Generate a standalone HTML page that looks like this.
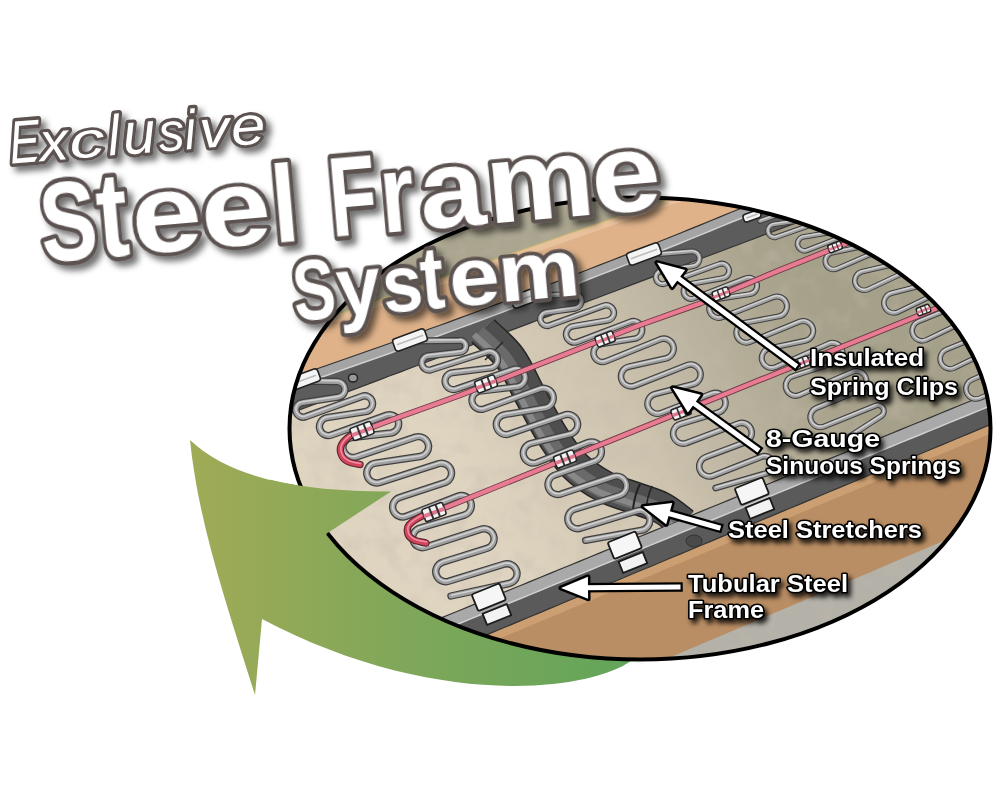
<!DOCTYPE html><html><head><meta charset="utf-8"><style>
html,body{margin:0;padding:0;background:#fff;width:1000px;height:800px;overflow:hidden}
svg{display:block}
text{font-family:"Liberation Sans",sans-serif;font-weight:bold}
</style></head><body>
<svg width="1000" height="800" viewBox="0 0 1000 800">
<defs>
<linearGradient id="gg" gradientUnits="userSpaceOnUse" x1="190" y1="0" x2="630" y2="0">
<stop offset="0" stop-color="#a0ab56"/><stop offset="0.45" stop-color="#82a759"/><stop offset="1" stop-color="#62a55a"/></linearGradient>
<linearGradient id="conc" gradientUnits="userSpaceOnUse" x1="460" y1="470" x2="820" y2="290">
<stop offset="0" stop-color="#dfd4c0"/><stop offset="0.45" stop-color="#cdc3ae"/><stop offset="0.61" stop-color="#bfb7a3"/><stop offset="0.88" stop-color="#aaa48e"/><stop offset="1" stop-color="#a5a089"/></linearGradient>
<linearGradient id="tube" gradientUnits="userSpaceOnUse" x1="0" y1="0" x2="1" y2="0">
<stop offset="0" stop-color="#999"/><stop offset="1" stop-color="#444"/></linearGradient>
<filter id="noise" x="0" y="0" width="100%" height="100%" filterUnits="userSpaceOnUse">
<feTurbulence type="fractalNoise" baseFrequency="0.045" numOctaves="3" seed="7" result="t"/>
<feColorMatrix in="t" type="matrix" values="0 0 0 0 0.55  0 0 0 0 0.5  0 0 0 0 0.42  1.6 0 0 0 -0.72"/>
</filter>
<clipPath id="ell"><ellipse cx="640" cy="428.5" rx="350.5" ry="231"/></clipPath>
<filter id="sh" x="-10%" y="-10%" width="130%" height="140%">
<feGaussianBlur in="SourceAlpha" stdDeviation="3.2"/><feOffset dx="5" dy="5" result="b"/>
<feFlood flood-color="#000" flood-opacity="0.55"/><feComposite in2="b" operator="in"/>
<feMerge><feMergeNode/><feMergeNode in="SourceGraphic"/></feMerge></filter>
<filter id="sh2" x="-10%" y="-20%" width="130%" height="160%">
<feGaussianBlur in="SourceAlpha" stdDeviation="2.6"/><feOffset dx="3" dy="4" result="b"/>
<feFlood flood-color="#000" flood-opacity="0.85"/><feComposite in2="b" operator="in"/>
<feMerge><feMergeNode/><feMergeNode in="SourceGraphic"/></feMerge></filter>
</defs>

<path d="M190,440 C230,478 300,492 391,491.5 L326,534 L420,590 L520,635 L600,655 L645,664 L631,661 C585,693 430,708 262,619 L255,695 C225,600 198,520 190,440 Z" fill="url(#gg)"/>
<g clip-path="url(#ell)">
<rect x="280" y="190" width="720" height="480" fill="#aaa58f"/>
<polygon points="270.0,421.1 280.0,417.3 290.0,413.5 300.0,409.8 310.0,406.0 320.0,402.2 330.0,398.5 340.0,394.7 350.0,390.9 360.0,387.2 370.0,383.4 380.0,379.6 390.0,375.8 400.0,372.1 410.0,368.3 420.0,364.5 430.0,360.8 440.0,357.0 450.0,353.2 460.0,349.5 470.0,345.7 480.0,341.9 490.0,338.2 500.0,334.4 510.0,330.6 520.0,326.9 530.0,323.1 540.0,319.3 550.0,315.6 560.0,311.8 570.0,308.0 580.0,304.3 590.0,300.5 600.0,296.7 610.0,293.0 620.0,289.2 630.0,285.4 640.0,281.6 650.0,277.9 660.0,274.1 670.0,270.3 680.0,266.6 690.0,262.8 700.0,259.0 710.0,255.3 720.0,251.5 730.0,247.7 740.0,244.0 750.0,240.2 760.0,236.4 770.0,232.7 780.0,228.9 790.0,225.1 800.0,221.4 810.0,217.6 820.0,213.8 830.0,210.1 840.0,206.3 850.0,202.5 860.0,198.8 870.0,195.0 880.0,191.2 890.0,187.4 900.0,183.7 910.0,179.9 920.0,176.1 930.0,172.4 940.0,168.6 950.0,164.8 960.0,161.1 970.0,157.3 980.0,153.5 990.0,149.8 1000.0,146.0 1010.0,142.2 1010.0,384.8 1000.0,388.9 990.0,393.0 980.0,397.1 970.0,401.2 960.0,405.3 950.0,409.4 940.0,413.5 930.0,417.6 920.0,421.7 910.0,425.8 900.0,429.9 890.0,434.0 880.0,438.1 870.0,442.2 860.0,446.3 850.0,450.4 840.0,454.5 830.0,458.6 820.0,462.7 810.0,466.8 800.0,470.9 790.0,475.0 780.0,479.1 770.0,483.2 760.0,487.3 750.0,491.4 740.0,495.5 730.0,499.6 720.0,503.7 710.0,507.8 700.0,511.9 690.0,516.0 680.0,520.1 670.0,524.2 660.0,528.3 650.0,532.4 640.0,536.5 630.0,540.6 620.0,544.7 610.0,548.8 600.0,552.9 590.0,557.0 580.0,561.1 570.0,565.2 560.0,569.3 550.0,573.4 540.0,577.5 530.0,581.6 520.0,585.7 510.0,589.8 500.0,593.8 490.0,597.9 480.0,602.0 470.0,606.1 460.0,610.2 450.0,614.3 440.0,618.4 430.0,622.5 420.0,626.6 410.0,630.7 400.0,634.8 390.0,638.9 380.0,643.0 370.0,647.1 360.0,651.2 350.0,655.3 340.0,659.4 330.0,663.5 320.0,667.6 310.0,671.7 300.0,675.8 290.0,679.9 280.0,684.0 270.0,688.1" fill="url(#conc)"/>
<clipPath id="concclip"><polygon points="270.0,421.1 280.0,417.3 290.0,413.5 300.0,409.8 310.0,406.0 320.0,402.2 330.0,398.5 340.0,394.7 350.0,390.9 360.0,387.2 370.0,383.4 380.0,379.6 390.0,375.8 400.0,372.1 410.0,368.3 420.0,364.5 430.0,360.8 440.0,357.0 450.0,353.2 460.0,349.5 470.0,345.7 480.0,341.9 490.0,338.2 500.0,334.4 510.0,330.6 520.0,326.9 530.0,323.1 540.0,319.3 550.0,315.6 560.0,311.8 570.0,308.0 580.0,304.3 590.0,300.5 600.0,296.7 610.0,293.0 620.0,289.2 630.0,285.4 640.0,281.6 650.0,277.9 660.0,274.1 670.0,270.3 680.0,266.6 690.0,262.8 700.0,259.0 710.0,255.3 720.0,251.5 730.0,247.7 740.0,244.0 750.0,240.2 760.0,236.4 770.0,232.7 780.0,228.9 790.0,225.1 800.0,221.4 810.0,217.6 820.0,213.8 830.0,210.1 840.0,206.3 850.0,202.5 860.0,198.8 870.0,195.0 880.0,191.2 890.0,187.4 900.0,183.7 910.0,179.9 920.0,176.1 930.0,172.4 940.0,168.6 950.0,164.8 960.0,161.1 970.0,157.3 980.0,153.5 990.0,149.8 1000.0,146.0 1010.0,142.2 1010.0,384.8 1000.0,388.9 990.0,393.0 980.0,397.1 970.0,401.2 960.0,405.3 950.0,409.4 940.0,413.5 930.0,417.6 920.0,421.7 910.0,425.8 900.0,429.9 890.0,434.0 880.0,438.1 870.0,442.2 860.0,446.3 850.0,450.4 840.0,454.5 830.0,458.6 820.0,462.7 810.0,466.8 800.0,470.9 790.0,475.0 780.0,479.1 770.0,483.2 760.0,487.3 750.0,491.4 740.0,495.5 730.0,499.6 720.0,503.7 710.0,507.8 700.0,511.9 690.0,516.0 680.0,520.1 670.0,524.2 660.0,528.3 650.0,532.4 640.0,536.5 630.0,540.6 620.0,544.7 610.0,548.8 600.0,552.9 590.0,557.0 580.0,561.1 570.0,565.2 560.0,569.3 550.0,573.4 540.0,577.5 530.0,581.6 520.0,585.7 510.0,589.8 500.0,593.8 490.0,597.9 480.0,602.0 470.0,606.1 460.0,610.2 450.0,614.3 440.0,618.4 430.0,622.5 420.0,626.6 410.0,630.7 400.0,634.8 390.0,638.9 380.0,643.0 370.0,647.1 360.0,651.2 350.0,655.3 340.0,659.4 330.0,663.5 320.0,667.6 310.0,671.7 300.0,675.8 290.0,679.9 280.0,684.0 270.0,688.1"/></clipPath>
<rect x="280" y="190" width="720" height="480" filter="url(#noise)" clip-path="url(#concclip)" opacity="0.55"/>
<clipPath id="upclip"><polygon points="270.0,150.0 280.0,150.0 290.0,150.0 300.0,150.0 310.0,150.0 320.0,150.0 330.0,150.0 340.0,150.0 350.0,150.0 360.0,150.0 370.0,150.0 380.0,150.0 390.0,150.0 400.0,150.0 410.0,150.0 420.0,150.0 430.0,150.0 440.0,150.0 450.0,150.0 460.0,150.0 470.0,150.0 480.0,150.0 490.0,150.0 500.0,150.0 510.0,150.0 520.0,150.0 530.0,150.0 540.0,150.0 550.0,150.0 560.0,150.0 570.0,150.0 580.0,150.0 590.0,150.0 600.0,150.0 610.0,150.0 620.0,150.0 630.0,150.0 640.0,150.0 650.0,150.0 660.0,150.0 670.0,150.0 680.0,150.0 690.0,150.0 700.0,150.0 710.0,150.0 720.0,150.0 730.0,150.0 740.0,150.0 750.0,150.0 760.0,150.0 770.0,150.0 780.0,150.0 790.0,150.0 800.0,150.0 810.0,150.0 820.0,150.0 830.0,150.0 840.0,150.0 850.0,150.0 860.0,150.0 870.0,150.0 880.0,150.0 890.0,150.0 900.0,150.0 910.0,150.0 920.0,150.0 930.0,150.0 940.0,150.0 950.0,150.0 960.0,150.0 970.0,150.0 980.0,150.0 990.0,150.0 1000.0,150.0 1010.0,150.0 1010.0,79.2 1000.0,82.7 990.0,86.2 980.0,89.7 970.0,93.2 960.0,96.7 950.0,100.2 940.0,103.7 930.0,107.2 920.0,110.7 910.0,114.2 900.0,117.7 890.0,121.2 880.0,124.7 870.0,128.2 860.0,131.7 850.0,135.2 840.0,138.7 830.0,142.2 820.0,145.7 810.0,149.2 800.0,152.7 790.0,156.2 780.0,159.7 770.0,163.2 760.0,166.7 750.0,170.2 740.0,173.7 730.0,177.2 720.0,180.7 710.0,184.2 700.0,187.7 690.0,191.2 680.0,194.7 670.0,198.2 660.0,201.7 650.0,205.2 640.0,208.7 630.0,212.2 620.0,215.7 610.0,219.2 600.0,222.7 590.0,226.2 580.0,229.7 570.0,233.2 560.0,236.7 550.0,240.2 540.0,243.7 530.0,247.2 520.0,250.7 510.0,254.2 500.0,257.6 490.0,261.1 480.0,264.6 470.0,268.1 460.0,271.6 450.0,275.1 440.0,278.6 430.0,282.1 420.0,285.6 410.0,289.1 400.0,292.6 390.0,296.1 380.0,299.6 370.0,303.1 360.0,306.6 350.0,310.1 340.0,313.6 330.0,317.1 320.0,320.6 310.0,324.1 300.0,327.6 290.0,331.1 280.0,334.6 270.0,338.1"/></clipPath>
<rect x="280" y="150" width="720" height="480" filter="url(#noise)" clip-path="url(#upclip)" opacity="0.5"/>
<polygon points="270.0,338.1 280.0,334.6 290.0,331.1 300.0,327.6 310.0,324.1 320.0,320.6 330.0,317.1 340.0,313.6 350.0,310.1 360.0,306.6 370.0,303.1 380.0,299.6 390.0,296.1 400.0,292.6 410.0,289.1 420.0,285.6 430.0,282.1 440.0,278.6 450.0,275.1 460.0,271.6 470.0,268.1 480.0,264.6 490.0,261.1 500.0,257.6 510.0,254.2 520.0,250.7 530.0,247.2 540.0,243.7 550.0,240.2 560.0,236.7 570.0,233.2 580.0,229.7 590.0,226.2 600.0,222.7 610.0,219.2 620.0,215.7 630.0,212.2 640.0,208.7 650.0,205.2 660.0,201.7 670.0,198.2 680.0,194.7 690.0,191.2 700.0,187.7 710.0,184.2 720.0,180.7 730.0,177.2 740.0,173.7 750.0,170.2 760.0,166.7 770.0,163.2 780.0,159.7 790.0,156.2 800.0,152.7 810.0,149.2 820.0,145.7 830.0,142.2 840.0,138.7 850.0,135.2 860.0,131.7 870.0,128.2 880.0,124.7 890.0,121.2 900.0,117.7 910.0,114.2 920.0,110.7 930.0,107.2 940.0,103.7 950.0,100.2 960.0,96.7 970.0,93.2 980.0,89.7 990.0,86.2 1000.0,82.7 1010.0,79.2 1010.0,91.2 1000.0,95.8 990.0,100.4 980.0,104.9 970.0,109.4 960.0,113.9 950.0,118.4 940.0,122.8 930.0,127.3 920.0,131.7 910.0,136.1 900.0,140.5 890.0,144.9 880.0,149.3 870.0,153.6 860.0,158.0 850.0,162.3 840.0,166.6 830.0,170.9 820.0,175.1 810.0,179.4 800.0,183.6 790.0,187.8 780.0,192.0 770.0,196.2 760.0,200.4 750.0,204.5 740.0,208.7 730.0,212.8 720.0,216.9 710.0,221.0 700.0,225.1 690.0,229.1 680.0,233.2 670.0,237.2 660.0,241.2 650.0,245.2 640.0,249.2 630.0,253.1 620.0,257.1 610.0,261.0 600.0,264.9 590.0,268.8 580.0,272.7 570.0,276.5 560.0,280.4 550.0,284.2 540.0,288.0 530.0,291.8 520.0,295.6 510.0,299.3 500.0,303.1 490.0,306.8 480.0,310.5 470.0,314.2 460.0,317.9 450.0,321.6 440.0,325.2 430.0,328.8 420.0,332.5 410.0,336.1 400.0,339.6 390.0,343.2 380.0,346.8 370.0,350.3 360.0,353.8 350.0,357.3 340.0,360.8 330.0,364.3 320.0,367.7 310.0,371.2 300.0,374.6 290.0,378.0 280.0,381.4 270.0,384.7" fill="#dfb28a"/>
<polygon points="270.0,338.1 280.0,334.6 290.0,331.1 300.0,327.6 310.0,324.1 320.0,320.6 330.0,317.1 340.0,313.6 350.0,310.1 360.0,306.6 370.0,303.1 380.0,299.6 390.0,296.1 400.0,292.6 410.0,289.1 420.0,285.6 430.0,282.1 440.0,278.6 450.0,275.1 460.0,271.6 470.0,268.1 480.0,264.6 490.0,261.1 500.0,257.6 510.0,254.2 520.0,250.7 530.0,247.2 540.0,243.7 550.0,240.2 560.0,236.7 570.0,233.2 580.0,229.7 590.0,226.2 600.0,222.7 610.0,219.2 620.0,215.7 630.0,212.2 640.0,208.7 650.0,205.2 660.0,201.7 670.0,198.2 680.0,194.7 690.0,191.2 700.0,187.7 710.0,184.2 720.0,180.7 730.0,177.2 740.0,173.7 750.0,170.2 760.0,166.7 770.0,163.2 780.0,159.7 790.0,156.2 800.0,152.7 810.0,149.2 820.0,145.7 830.0,142.2 840.0,138.7 850.0,135.2 860.0,131.7 870.0,128.2 880.0,124.7 890.0,121.2 900.0,117.7 910.0,114.2 920.0,110.7 930.0,107.2 940.0,103.7 950.0,100.2 960.0,96.7 970.0,93.2 980.0,89.7 990.0,86.2 1000.0,82.7 1010.0,79.2 1010.0,86.2 1000.0,89.7 990.0,93.2 980.0,96.7 970.0,100.2 960.0,103.7 950.0,107.2 940.0,110.7 930.0,114.2 920.0,117.7 910.0,121.2 900.0,124.7 890.0,128.2 880.0,131.7 870.0,135.2 860.0,138.7 850.0,142.2 840.0,145.7 830.0,149.2 820.0,152.7 810.0,156.2 800.0,159.7 790.0,163.2 780.0,166.7 770.0,170.2 760.0,173.7 750.0,177.2 740.0,180.7 730.0,184.2 720.0,187.7 710.0,191.2 700.0,194.7 690.0,198.2 680.0,201.7 670.0,205.2 660.0,208.7 650.0,212.2 640.0,215.7 630.0,219.2 620.0,222.7 610.0,226.2 600.0,229.7 590.0,233.2 580.0,236.7 570.0,240.2 560.0,243.7 550.0,247.2 540.0,250.7 530.0,254.2 520.0,257.6 510.0,261.1 500.0,264.6 490.0,268.1 480.0,271.6 470.0,275.1 460.0,278.6 450.0,282.1 440.0,285.6 430.0,289.1 420.0,292.6 410.0,296.1 400.0,299.6 390.0,303.1 380.0,306.6 370.0,310.1 360.0,313.6 350.0,317.1 340.0,320.6 330.0,324.1 320.0,327.6 310.0,331.1 300.0,334.6 290.0,338.1 280.0,341.6 270.0,345.1" fill="#e8c29c"/>
<polyline points="270.0,338.1 280.0,334.6 290.0,331.1 300.0,327.6 310.0,324.1 320.0,320.6 330.0,317.1 340.0,313.6 350.0,310.1 360.0,306.6 370.0,303.1 380.0,299.6 390.0,296.1 400.0,292.6 410.0,289.1 420.0,285.6 430.0,282.1 440.0,278.6 450.0,275.1 460.0,271.6 470.0,268.1 480.0,264.6 490.0,261.1 500.0,257.6 510.0,254.2 520.0,250.7 530.0,247.2 540.0,243.7 550.0,240.2 560.0,236.7 570.0,233.2 580.0,229.7 590.0,226.2 600.0,222.7 610.0,219.2 620.0,215.7 630.0,212.2 640.0,208.7 650.0,205.2 660.0,201.7 670.0,198.2 680.0,194.7 690.0,191.2 700.0,187.7 710.0,184.2 720.0,180.7 730.0,177.2 740.0,173.7 750.0,170.2 760.0,166.7 770.0,163.2 780.0,159.7 790.0,156.2 800.0,152.7 810.0,149.2 820.0,145.7 830.0,142.2 840.0,138.7 850.0,135.2 860.0,131.7 870.0,128.2 880.0,124.7 890.0,121.2 900.0,117.7 910.0,114.2 920.0,110.7 930.0,107.2 940.0,103.7 950.0,100.2 960.0,96.7 970.0,93.2 980.0,89.7 990.0,86.2 1000.0,82.7 1010.0,79.2" fill="none" stroke="#c9b870" stroke-width="1.2"/>
<polygon points="270.0,384.7 280.0,381.4 290.0,378.0 300.0,374.6 310.0,371.2 320.0,367.7 330.0,364.3 340.0,360.8 350.0,357.3 360.0,353.8 370.0,350.3 380.0,346.8 390.0,343.2 400.0,339.6 410.0,336.1 420.0,332.5 430.0,328.8 440.0,325.2 450.0,321.6 460.0,317.9 470.0,314.2 480.0,310.5 490.0,306.8 500.0,303.1 510.0,299.3 520.0,295.6 530.0,291.8 540.0,288.0 550.0,284.2 560.0,280.4 570.0,276.5 580.0,272.7 590.0,268.8 600.0,264.9 610.0,261.0 620.0,257.1 630.0,253.1 640.0,249.2 650.0,245.2 660.0,241.2 670.0,237.2 680.0,233.2 690.0,229.1 700.0,225.1 710.0,221.0 720.0,216.9 730.0,212.8 740.0,208.7 750.0,204.5 760.0,200.4 770.0,196.2 780.0,192.0 790.0,187.8 800.0,183.6 810.0,179.4 820.0,175.1 830.0,170.9 840.0,166.6 850.0,162.3 860.0,158.0 870.0,153.6 880.0,149.3 890.0,144.9 900.0,140.5 910.0,136.1 920.0,131.7 930.0,127.3 940.0,122.8 950.0,118.4 960.0,113.9 970.0,109.4 980.0,104.9 990.0,100.4 1000.0,95.8 1010.0,91.2 1010.0,101.2 1000.0,105.8 990.0,110.4 980.0,114.9 970.0,119.4 960.0,123.9 950.0,128.4 940.0,132.8 930.0,137.3 920.0,141.7 910.0,146.1 900.0,150.5 890.0,154.9 880.0,159.3 870.0,163.6 860.0,168.0 850.0,172.3 840.0,176.6 830.0,180.9 820.0,185.1 810.0,189.4 800.0,193.6 790.0,197.8 780.0,202.0 770.0,206.2 760.0,210.4 750.0,214.5 740.0,218.7 730.0,222.8 720.0,226.9 710.0,231.0 700.0,235.1 690.0,239.1 680.0,243.2 670.0,247.2 660.0,251.2 650.0,255.2 640.0,259.2 630.0,263.1 620.0,267.1 610.0,271.0 600.0,274.9 590.0,278.8 580.0,282.7 570.0,286.5 560.0,290.4 550.0,294.2 540.0,298.0 530.0,301.8 520.0,305.6 510.0,309.3 500.0,313.1 490.0,316.8 480.0,320.5 470.0,324.2 460.0,327.9 450.0,331.6 440.0,335.2 430.0,338.8 420.0,342.5 410.0,346.1 400.0,349.6 390.0,353.2 380.0,356.8 370.0,360.3 360.0,363.8 350.0,367.3 340.0,370.8 330.0,374.3 320.0,377.7 310.0,381.2 300.0,384.6 290.0,388.0 280.0,391.4 270.0,394.7" fill="#a4a4a4"/>
<polygon points="270.0,394.7 280.0,391.4 290.0,388.0 300.0,384.6 310.0,381.2 320.0,377.7 330.0,374.3 340.0,370.8 350.0,367.3 360.0,363.8 370.0,360.3 380.0,356.8 390.0,353.2 400.0,349.6 410.0,346.1 420.0,342.5 430.0,338.8 440.0,335.2 450.0,331.6 460.0,327.9 470.0,324.2 480.0,320.5 490.0,316.8 500.0,313.1 510.0,309.3 520.0,305.6 530.0,301.8 540.0,298.0 550.0,294.2 560.0,290.4 570.0,286.5 580.0,282.7 590.0,278.8 600.0,274.9 610.0,271.0 620.0,267.1 630.0,263.1 640.0,259.2 650.0,255.2 660.0,251.2 670.0,247.2 680.0,243.2 690.0,239.1 700.0,235.1 710.0,231.0 720.0,226.9 730.0,222.8 740.0,218.7 750.0,214.5 760.0,210.4 770.0,206.2 780.0,202.0 790.0,197.8 800.0,193.6 810.0,189.4 820.0,185.1 830.0,180.9 840.0,176.6 850.0,172.3 860.0,168.0 870.0,163.6 880.0,159.3 890.0,154.9 900.0,150.5 910.0,146.1 920.0,141.7 930.0,137.3 940.0,132.8 950.0,128.4 960.0,123.9 970.0,119.4 980.0,114.9 990.0,110.4 1000.0,105.8 1010.0,101.2 1010.0,142.2 1000.0,146.0 990.0,149.8 980.0,153.5 970.0,157.3 960.0,161.1 950.0,164.8 940.0,168.6 930.0,172.4 920.0,176.1 910.0,179.9 900.0,183.7 890.0,187.4 880.0,191.2 870.0,195.0 860.0,198.8 850.0,202.5 840.0,206.3 830.0,210.1 820.0,213.8 810.0,217.6 800.0,221.4 790.0,225.1 780.0,228.9 770.0,232.7 760.0,236.4 750.0,240.2 740.0,244.0 730.0,247.7 720.0,251.5 710.0,255.3 700.0,259.0 690.0,262.8 680.0,266.6 670.0,270.3 660.0,274.1 650.0,277.9 640.0,281.6 630.0,285.4 620.0,289.2 610.0,293.0 600.0,296.7 590.0,300.5 580.0,304.3 570.0,308.0 560.0,311.8 550.0,315.6 540.0,319.3 530.0,323.1 520.0,326.9 510.0,330.6 500.0,334.4 490.0,338.2 480.0,341.9 470.0,345.7 460.0,349.5 450.0,353.2 440.0,357.0 430.0,360.8 420.0,364.5 410.0,368.3 400.0,372.1 390.0,375.8 380.0,379.6 370.0,383.4 360.0,387.2 350.0,390.9 340.0,394.7 330.0,398.5 320.0,402.2 310.0,406.0 300.0,409.8 290.0,413.5 280.0,417.3 270.0,421.1" fill="#5c5c5c"/>
<polyline points="270.0,394.7 280.0,391.4 290.0,388.0 300.0,384.6 310.0,381.2 320.0,377.7 330.0,374.3 340.0,370.8 350.0,367.3 360.0,363.8 370.0,360.3 380.0,356.8 390.0,353.2 400.0,349.6 410.0,346.1 420.0,342.5 430.0,338.8 440.0,335.2 450.0,331.6 460.0,327.9 470.0,324.2 480.0,320.5 490.0,316.8 500.0,313.1 510.0,309.3 520.0,305.6 530.0,301.8 540.0,298.0 550.0,294.2 560.0,290.4 570.0,286.5 580.0,282.7 590.0,278.8 600.0,274.9 610.0,271.0 620.0,267.1 630.0,263.1 640.0,259.2 650.0,255.2 660.0,251.2 670.0,247.2 680.0,243.2 690.0,239.1 700.0,235.1 710.0,231.0 720.0,226.9 730.0,222.8 740.0,218.7 750.0,214.5 760.0,210.4 770.0,206.2 780.0,202.0 790.0,197.8 800.0,193.6 810.0,189.4 820.0,185.1 830.0,180.9 840.0,176.6 850.0,172.3 860.0,168.0 870.0,163.6 880.0,159.3 890.0,154.9 900.0,150.5 910.0,146.1 920.0,141.7 930.0,137.3 940.0,132.8 950.0,128.4 960.0,123.9 970.0,119.4 980.0,114.9 990.0,110.4 1000.0,105.8 1010.0,101.2" fill="none" stroke="#d0d0d0" stroke-width="1.5"/>
<polygon points="270.0,688.1 280.0,684.0 290.0,679.9 300.0,675.8 310.0,671.7 320.0,667.6 330.0,663.5 340.0,659.4 350.0,655.3 360.0,651.2 370.0,647.1 380.0,643.0 390.0,638.9 400.0,634.8 410.0,630.7 420.0,626.6 430.0,622.5 440.0,618.4 450.0,614.3 460.0,610.2 470.0,606.1 480.0,602.0 490.0,597.9 500.0,593.8 510.0,589.8 520.0,585.7 530.0,581.6 540.0,577.5 550.0,573.4 560.0,569.3 570.0,565.2 580.0,561.1 590.0,557.0 600.0,552.9 610.0,548.8 620.0,544.7 630.0,540.6 640.0,536.5 650.0,532.4 660.0,528.3 670.0,524.2 680.0,520.1 690.0,516.0 700.0,511.9 710.0,507.8 720.0,503.7 730.0,499.6 740.0,495.5 750.0,491.4 760.0,487.3 770.0,483.2 780.0,479.1 790.0,475.0 800.0,470.9 810.0,466.8 820.0,462.7 830.0,458.6 840.0,454.5 850.0,450.4 860.0,446.3 870.0,442.2 880.0,438.1 890.0,434.0 900.0,429.9 910.0,425.8 920.0,421.7 930.0,417.6 940.0,413.5 950.0,409.4 960.0,405.3 970.0,401.2 980.0,397.1 990.0,393.0 1000.0,388.9 1010.0,384.8 1010.0,397.8 1000.0,401.9 990.0,406.0 980.0,410.1 970.0,414.2 960.0,418.3 950.0,422.4 940.0,426.5 930.0,430.6 920.0,434.7 910.0,438.8 900.0,442.9 890.0,447.0 880.0,451.1 870.0,455.2 860.0,459.3 850.0,463.4 840.0,467.5 830.0,471.6 820.0,475.7 810.0,479.8 800.0,483.9 790.0,488.0 780.0,492.1 770.0,496.2 760.0,500.3 750.0,504.4 740.0,508.5 730.0,512.6 720.0,516.7 710.0,520.8 700.0,524.9 690.0,529.0 680.0,533.1 670.0,537.2 660.0,541.3 650.0,545.4 640.0,549.5 630.0,553.6 620.0,557.7 610.0,561.8 600.0,565.9 590.0,570.0 580.0,574.1 570.0,578.2 560.0,582.3 550.0,586.4 540.0,590.5 530.0,594.6 520.0,598.7 510.0,602.8 500.0,606.8 490.0,610.9 480.0,615.0 470.0,619.1 460.0,623.2 450.0,627.3 440.0,631.4 430.0,635.5 420.0,639.6 410.0,643.7 400.0,647.8 390.0,651.9 380.0,656.0 370.0,660.1 360.0,664.2 350.0,668.3 340.0,672.4 330.0,676.5 320.0,680.6 310.0,684.7 300.0,688.8 290.0,692.9 280.0,697.0 270.0,701.1" fill="#a9a9a9"/>
<polygon points="270.0,701.1 280.0,697.0 290.0,692.9 300.0,688.8 310.0,684.7 320.0,680.6 330.0,676.5 340.0,672.4 350.0,668.3 360.0,664.2 370.0,660.1 380.0,656.0 390.0,651.9 400.0,647.8 410.0,643.7 420.0,639.6 430.0,635.5 440.0,631.4 450.0,627.3 460.0,623.2 470.0,619.1 480.0,615.0 490.0,610.9 500.0,606.8 510.0,602.8 520.0,598.7 530.0,594.6 540.0,590.5 550.0,586.4 560.0,582.3 570.0,578.2 580.0,574.1 590.0,570.0 600.0,565.9 610.0,561.8 620.0,557.7 630.0,553.6 640.0,549.5 650.0,545.4 660.0,541.3 670.0,537.2 680.0,533.1 690.0,529.0 700.0,524.9 710.0,520.8 720.0,516.7 730.0,512.6 740.0,508.5 750.0,504.4 760.0,500.3 770.0,496.2 780.0,492.1 790.0,488.0 800.0,483.9 810.0,479.8 820.0,475.7 830.0,471.6 840.0,467.5 850.0,463.4 860.0,459.3 870.0,455.2 880.0,451.1 890.0,447.0 900.0,442.9 910.0,438.8 920.0,434.7 930.0,430.6 940.0,426.5 950.0,422.4 960.0,418.3 970.0,414.2 980.0,410.1 990.0,406.0 1000.0,401.9 1010.0,397.8 1010.0,416.4 1000.0,420.6 990.0,424.8 980.0,428.9 970.0,433.1 960.0,437.3 950.0,441.5 940.0,445.6 930.0,449.8 920.0,454.0 910.0,458.2 900.0,462.3 890.0,466.5 880.0,470.7 870.0,474.8 860.0,479.0 850.0,483.2 840.0,487.4 830.0,491.5 820.0,495.7 810.0,499.9 800.0,504.1 790.0,508.2 780.0,512.4 770.0,516.6 760.0,520.8 750.0,524.9 740.0,529.1 730.0,533.3 720.0,537.4 710.0,541.6 700.0,545.8 690.0,550.0 680.0,554.1 670.0,558.3 660.0,562.5 650.0,566.7 640.0,570.8 630.0,575.0 620.0,579.2 610.0,583.3 600.0,587.5 590.0,591.7 580.0,595.9 570.0,600.0 560.0,604.2 550.0,608.4 540.0,612.6 530.0,616.7 520.0,620.9 510.0,625.1 500.0,629.2 490.0,633.4 480.0,637.6 470.0,641.8 460.0,645.9 450.0,650.1 440.0,654.3 430.0,658.5 420.0,662.6 410.0,666.8 400.0,671.0 390.0,675.2 380.0,679.3 370.0,683.5 360.0,687.7 350.0,691.8 340.0,696.0 330.0,700.2 320.0,704.4 310.0,708.5 300.0,712.7 290.0,716.9 280.0,721.1 270.0,725.2" fill="#5a5a5a"/>
<polyline points="270.0,701.1 280.0,697.0 290.0,692.9 300.0,688.8 310.0,684.7 320.0,680.6 330.0,676.5 340.0,672.4 350.0,668.3 360.0,664.2 370.0,660.1 380.0,656.0 390.0,651.9 400.0,647.8 410.0,643.7 420.0,639.6 430.0,635.5 440.0,631.4 450.0,627.3 460.0,623.2 470.0,619.1 480.0,615.0 490.0,610.9 500.0,606.8 510.0,602.8 520.0,598.7 530.0,594.6 540.0,590.5 550.0,586.4 560.0,582.3 570.0,578.2 580.0,574.1 590.0,570.0 600.0,565.9 610.0,561.8 620.0,557.7 630.0,553.6 640.0,549.5 650.0,545.4 660.0,541.3 670.0,537.2 680.0,533.1 690.0,529.0 700.0,524.9 710.0,520.8 720.0,516.7 730.0,512.6 740.0,508.5 750.0,504.4 760.0,500.3 770.0,496.2 780.0,492.1 790.0,488.0 800.0,483.9 810.0,479.8 820.0,475.7 830.0,471.6 840.0,467.5 850.0,463.4 860.0,459.3 870.0,455.2 880.0,451.1 890.0,447.0 900.0,442.9 910.0,438.8 920.0,434.7 930.0,430.6 940.0,426.5 950.0,422.4 960.0,418.3 970.0,414.2 980.0,410.1 990.0,406.0 1000.0,401.9 1010.0,397.8" fill="none" stroke="#d0d0d0" stroke-width="1.5"/>
<polygon points="270.0,725.2 280.0,721.1 290.0,716.9 300.0,712.7 310.0,708.5 320.0,704.4 330.0,700.2 340.0,696.0 350.0,691.8 360.0,687.7 370.0,683.5 380.0,679.3 390.0,675.2 400.0,671.0 410.0,666.8 420.0,662.6 430.0,658.5 440.0,654.3 450.0,650.1 460.0,645.9 470.0,641.8 480.0,637.6 490.0,633.4 500.0,629.2 510.0,625.1 520.0,620.9 530.0,616.7 540.0,612.6 550.0,608.4 560.0,604.2 570.0,600.0 580.0,595.9 590.0,591.7 600.0,587.5 610.0,583.3 620.0,579.2 630.0,575.0 640.0,570.8 650.0,566.7 660.0,562.5 670.0,558.3 680.0,554.1 690.0,550.0 700.0,545.8 710.0,541.6 720.0,537.4 730.0,533.3 740.0,529.1 750.0,524.9 760.0,520.8 770.0,516.6 780.0,512.4 790.0,508.2 800.0,504.1 810.0,499.9 820.0,495.7 830.0,491.5 840.0,487.4 850.0,483.2 860.0,479.0 870.0,474.8 880.0,470.7 890.0,466.5 900.0,462.3 910.0,458.2 920.0,454.0 930.0,449.8 940.0,445.6 950.0,441.5 960.0,437.3 970.0,433.1 980.0,428.9 990.0,424.8 1000.0,420.6 1010.0,416.4 1010.0,512.7 1000.0,517.0 990.0,521.2 980.0,525.5 970.0,529.8 960.0,534.0 950.0,538.3 940.0,542.5 930.0,546.8 920.0,551.1 910.0,555.3 900.0,559.6 890.0,563.8 880.0,568.1 870.0,572.4 860.0,576.6 850.0,580.9 840.0,585.1 830.0,589.4 820.0,593.7 810.0,597.9 800.0,602.2 790.0,606.4 780.0,610.7 770.0,615.0 760.0,619.2 750.0,623.5 740.0,627.7 730.0,632.0 720.0,636.3 710.0,640.5 700.0,644.8 690.0,649.0 680.0,653.3 670.0,657.6 660.0,661.8 650.0,666.1 640.0,670.3 630.0,674.6 620.0,678.9 610.0,683.1 600.0,687.4 590.0,691.6 580.0,695.9 570.0,700.2 560.0,704.4 550.0,708.7 540.0,712.9 530.0,717.2 520.0,721.5 510.0,725.7 500.0,730.0 490.0,734.2 480.0,738.5 470.0,742.8 460.0,747.0 450.0,751.3 440.0,755.5 430.0,759.8 420.0,764.1 410.0,768.3 400.0,772.6 390.0,776.8 380.0,781.1 370.0,785.4 360.0,789.6 350.0,793.9 340.0,798.1 330.0,802.4 320.0,806.7 310.0,810.9 300.0,815.2 290.0,819.4 280.0,823.7 270.0,828.0" fill="#ba8e64"/>
<polygon points="270.0,725.2 280.0,721.1 290.0,716.9 300.0,712.7 310.0,708.5 320.0,704.4 330.0,700.2 340.0,696.0 350.0,691.8 360.0,687.7 370.0,683.5 380.0,679.3 390.0,675.2 400.0,671.0 410.0,666.8 420.0,662.6 430.0,658.5 440.0,654.3 450.0,650.1 460.0,645.9 470.0,641.8 480.0,637.6 490.0,633.4 500.0,629.2 510.0,625.1 520.0,620.9 530.0,616.7 540.0,612.6 550.0,608.4 560.0,604.2 570.0,600.0 580.0,595.9 590.0,591.7 600.0,587.5 610.0,583.3 620.0,579.2 630.0,575.0 640.0,570.8 650.0,566.7 660.0,562.5 670.0,558.3 680.0,554.1 690.0,550.0 700.0,545.8 710.0,541.6 720.0,537.4 730.0,533.3 740.0,529.1 750.0,524.9 760.0,520.8 770.0,516.6 780.0,512.4 790.0,508.2 800.0,504.1 810.0,499.9 820.0,495.7 830.0,491.5 840.0,487.4 850.0,483.2 860.0,479.0 870.0,474.8 880.0,470.7 890.0,466.5 900.0,462.3 910.0,458.2 920.0,454.0 930.0,449.8 940.0,445.6 950.0,441.5 960.0,437.3 970.0,433.1 980.0,428.9 990.0,424.8 1000.0,420.6 1010.0,416.4 1010.0,425.4 1000.0,429.6 990.0,433.8 980.0,437.9 970.0,442.1 960.0,446.3 950.0,450.5 940.0,454.6 930.0,458.8 920.0,463.0 910.0,467.2 900.0,471.3 890.0,475.5 880.0,479.7 870.0,483.8 860.0,488.0 850.0,492.2 840.0,496.4 830.0,500.5 820.0,504.7 810.0,508.9 800.0,513.1 790.0,517.2 780.0,521.4 770.0,525.6 760.0,529.8 750.0,533.9 740.0,538.1 730.0,542.3 720.0,546.4 710.0,550.6 700.0,554.8 690.0,559.0 680.0,563.1 670.0,567.3 660.0,571.5 650.0,575.7 640.0,579.8 630.0,584.0 620.0,588.2 610.0,592.3 600.0,596.5 590.0,600.7 580.0,604.9 570.0,609.0 560.0,613.2 550.0,617.4 540.0,621.6 530.0,625.7 520.0,629.9 510.0,634.1 500.0,638.2 490.0,642.4 480.0,646.6 470.0,650.8 460.0,654.9 450.0,659.1 440.0,663.3 430.0,667.5 420.0,671.6 410.0,675.8 400.0,680.0 390.0,684.2 380.0,688.3 370.0,692.5 360.0,696.7 350.0,700.8 340.0,705.0 330.0,709.2 320.0,713.4 310.0,717.5 300.0,721.7 290.0,725.9 280.0,730.1 270.0,734.2" fill="#cc9f72"/>
<polygon points="270.0,828.0 280.0,823.7 290.0,819.4 300.0,815.2 310.0,810.9 320.0,806.7 330.0,802.4 340.0,798.1 350.0,793.9 360.0,789.6 370.0,785.4 380.0,781.1 390.0,776.8 400.0,772.6 410.0,768.3 420.0,764.1 430.0,759.8 440.0,755.5 450.0,751.3 460.0,747.0 470.0,742.8 480.0,738.5 490.0,734.2 500.0,730.0 510.0,725.7 520.0,721.5 530.0,717.2 540.0,712.9 550.0,708.7 560.0,704.4 570.0,700.2 580.0,695.9 590.0,691.6 600.0,687.4 610.0,683.1 620.0,678.9 630.0,674.6 640.0,670.3 650.0,666.1 660.0,661.8 670.0,657.6 680.0,653.3 690.0,649.0 700.0,644.8 710.0,640.5 720.0,636.3 730.0,632.0 740.0,627.7 750.0,623.5 760.0,619.2 770.0,615.0 780.0,610.7 790.0,606.4 800.0,602.2 810.0,597.9 820.0,593.7 830.0,589.4 840.0,585.1 850.0,580.9 860.0,576.6 870.0,572.4 880.0,568.1 890.0,563.8 900.0,559.6 910.0,555.3 920.0,551.1 930.0,546.8 940.0,542.5 950.0,538.3 960.0,534.0 970.0,529.8 980.0,525.5 990.0,521.2 1000.0,517.0 1010.0,512.7 1010.0,720.0 1000.0,720.0 990.0,720.0 980.0,720.0 970.0,720.0 960.0,720.0 950.0,720.0 940.0,720.0 930.0,720.0 920.0,720.0 910.0,720.0 900.0,720.0 890.0,720.0 880.0,720.0 870.0,720.0 860.0,720.0 850.0,720.0 840.0,720.0 830.0,720.0 820.0,720.0 810.0,720.0 800.0,720.0 790.0,720.0 780.0,720.0 770.0,720.0 760.0,720.0 750.0,720.0 740.0,720.0 730.0,720.0 720.0,720.0 710.0,720.0 700.0,720.0 690.0,720.0 680.0,720.0 670.0,720.0 660.0,720.0 650.0,720.0 640.0,720.0 630.0,720.0 620.0,720.0 610.0,720.0 600.0,720.0 590.0,720.0 580.0,720.0 570.0,720.0 560.0,720.0 550.0,720.0 540.0,720.0 530.0,720.0 520.0,720.0 510.0,720.0 500.0,720.0 490.0,720.0 480.0,720.0 470.0,720.0 460.0,720.0 450.0,720.0 440.0,720.0 430.0,720.0 420.0,720.0 410.0,720.0 400.0,720.0 390.0,720.0 380.0,720.0 370.0,720.0 360.0,720.0 350.0,720.0 340.0,720.0 330.0,720.0 320.0,720.0 310.0,720.0 300.0,720.0 290.0,720.0 280.0,720.0 270.0,720.0" fill="#b4b1a9"/>
<clipPath id="grayclip"><polygon points="270.0,828.0 280.0,823.7 290.0,819.4 300.0,815.2 310.0,810.9 320.0,806.7 330.0,802.4 340.0,798.1 350.0,793.9 360.0,789.6 370.0,785.4 380.0,781.1 390.0,776.8 400.0,772.6 410.0,768.3 420.0,764.1 430.0,759.8 440.0,755.5 450.0,751.3 460.0,747.0 470.0,742.8 480.0,738.5 490.0,734.2 500.0,730.0 510.0,725.7 520.0,721.5 530.0,717.2 540.0,712.9 550.0,708.7 560.0,704.4 570.0,700.2 580.0,695.9 590.0,691.6 600.0,687.4 610.0,683.1 620.0,678.9 630.0,674.6 640.0,670.3 650.0,666.1 660.0,661.8 670.0,657.6 680.0,653.3 690.0,649.0 700.0,644.8 710.0,640.5 720.0,636.3 730.0,632.0 740.0,627.7 750.0,623.5 760.0,619.2 770.0,615.0 780.0,610.7 790.0,606.4 800.0,602.2 810.0,597.9 820.0,593.7 830.0,589.4 840.0,585.1 850.0,580.9 860.0,576.6 870.0,572.4 880.0,568.1 890.0,563.8 900.0,559.6 910.0,555.3 920.0,551.1 930.0,546.8 940.0,542.5 950.0,538.3 960.0,534.0 970.0,529.8 980.0,525.5 990.0,521.2 1000.0,517.0 1010.0,512.7 1010.0,720.0 1000.0,720.0 990.0,720.0 980.0,720.0 970.0,720.0 960.0,720.0 950.0,720.0 940.0,720.0 930.0,720.0 920.0,720.0 910.0,720.0 900.0,720.0 890.0,720.0 880.0,720.0 870.0,720.0 860.0,720.0 850.0,720.0 840.0,720.0 830.0,720.0 820.0,720.0 810.0,720.0 800.0,720.0 790.0,720.0 780.0,720.0 770.0,720.0 760.0,720.0 750.0,720.0 740.0,720.0 730.0,720.0 720.0,720.0 710.0,720.0 700.0,720.0 690.0,720.0 680.0,720.0 670.0,720.0 660.0,720.0 650.0,720.0 640.0,720.0 630.0,720.0 620.0,720.0 610.0,720.0 600.0,720.0 590.0,720.0 580.0,720.0 570.0,720.0 560.0,720.0 550.0,720.0 540.0,720.0 530.0,720.0 520.0,720.0 510.0,720.0 500.0,720.0 490.0,720.0 480.0,720.0 470.0,720.0 460.0,720.0 450.0,720.0 440.0,720.0 430.0,720.0 420.0,720.0 410.0,720.0 400.0,720.0 390.0,720.0 380.0,720.0 370.0,720.0 360.0,720.0 350.0,720.0 340.0,720.0 330.0,720.0 320.0,720.0 310.0,720.0 300.0,720.0 290.0,720.0 280.0,720.0 270.0,720.0"/></clipPath>
<rect x="280" y="190" width="720" height="480" filter="url(#noise)" clip-path="url(#grayclip)" opacity="0.5"/>
<polyline points="270.0,384.7 280.0,381.4 290.0,378.0 300.0,374.6 310.0,371.2 320.0,367.7 330.0,364.3 340.0,360.8 350.0,357.3 360.0,353.8 370.0,350.3 380.0,346.8 390.0,343.2 400.0,339.6 410.0,336.1 420.0,332.5 430.0,328.8 440.0,325.2 450.0,321.6 460.0,317.9 470.0,314.2 480.0,310.5 490.0,306.8 500.0,303.1 510.0,299.3 520.0,295.6 530.0,291.8 540.0,288.0 550.0,284.2 560.0,280.4 570.0,276.5 580.0,272.7 590.0,268.8 600.0,264.9 610.0,261.0 620.0,257.1 630.0,253.1 640.0,249.2 650.0,245.2 660.0,241.2 670.0,237.2 680.0,233.2 690.0,229.1 700.0,225.1 710.0,221.0 720.0,216.9 730.0,212.8 740.0,208.7 750.0,204.5 760.0,200.4 770.0,196.2 780.0,192.0 790.0,187.8 800.0,183.6 810.0,179.4 820.0,175.1 830.0,170.9 840.0,166.6 850.0,162.3 860.0,158.0 870.0,153.6 880.0,149.3 890.0,144.9 900.0,140.5 910.0,136.1 920.0,131.7 930.0,127.3 940.0,122.8 950.0,118.4 960.0,113.9 970.0,109.4 980.0,104.9 990.0,100.4 1000.0,95.8 1010.0,91.2" fill="none" stroke="#333" stroke-width="1.2"/>
<polyline points="270.0,421.1 280.0,417.3 290.0,413.5 300.0,409.8 310.0,406.0 320.0,402.2 330.0,398.5 340.0,394.7 350.0,390.9 360.0,387.2 370.0,383.4 380.0,379.6 390.0,375.8 400.0,372.1 410.0,368.3 420.0,364.5 430.0,360.8 440.0,357.0 450.0,353.2 460.0,349.5 470.0,345.7 480.0,341.9 490.0,338.2 500.0,334.4 510.0,330.6 520.0,326.9 530.0,323.1 540.0,319.3 550.0,315.6 560.0,311.8 570.0,308.0 580.0,304.3 590.0,300.5 600.0,296.7 610.0,293.0 620.0,289.2 630.0,285.4 640.0,281.6 650.0,277.9 660.0,274.1 670.0,270.3 680.0,266.6 690.0,262.8 700.0,259.0 710.0,255.3 720.0,251.5 730.0,247.7 740.0,244.0 750.0,240.2 760.0,236.4 770.0,232.7 780.0,228.9 790.0,225.1 800.0,221.4 810.0,217.6 820.0,213.8 830.0,210.1 840.0,206.3 850.0,202.5 860.0,198.8 870.0,195.0 880.0,191.2 890.0,187.4 900.0,183.7 910.0,179.9 920.0,176.1 930.0,172.4 940.0,168.6 950.0,164.8 960.0,161.1 970.0,157.3 980.0,153.5 990.0,149.8 1000.0,146.0 1010.0,142.2" fill="none" stroke="#333" stroke-width="1.2"/>
<polyline points="270.0,688.1 280.0,684.0 290.0,679.9 300.0,675.8 310.0,671.7 320.0,667.6 330.0,663.5 340.0,659.4 350.0,655.3 360.0,651.2 370.0,647.1 380.0,643.0 390.0,638.9 400.0,634.8 410.0,630.7 420.0,626.6 430.0,622.5 440.0,618.4 450.0,614.3 460.0,610.2 470.0,606.1 480.0,602.0 490.0,597.9 500.0,593.8 510.0,589.8 520.0,585.7 530.0,581.6 540.0,577.5 550.0,573.4 560.0,569.3 570.0,565.2 580.0,561.1 590.0,557.0 600.0,552.9 610.0,548.8 620.0,544.7 630.0,540.6 640.0,536.5 650.0,532.4 660.0,528.3 670.0,524.2 680.0,520.1 690.0,516.0 700.0,511.9 710.0,507.8 720.0,503.7 730.0,499.6 740.0,495.5 750.0,491.4 760.0,487.3 770.0,483.2 780.0,479.1 790.0,475.0 800.0,470.9 810.0,466.8 820.0,462.7 830.0,458.6 840.0,454.5 850.0,450.4 860.0,446.3 870.0,442.2 880.0,438.1 890.0,434.0 900.0,429.9 910.0,425.8 920.0,421.7 930.0,417.6 940.0,413.5 950.0,409.4 960.0,405.3 970.0,401.2 980.0,397.1 990.0,393.0 1000.0,388.9 1010.0,384.8" fill="none" stroke="#333" stroke-width="1.2"/>
<polyline points="270.0,725.2 280.0,721.1 290.0,716.9 300.0,712.7 310.0,708.5 320.0,704.4 330.0,700.2 340.0,696.0 350.0,691.8 360.0,687.7 370.0,683.5 380.0,679.3 390.0,675.2 400.0,671.0 410.0,666.8 420.0,662.6 430.0,658.5 440.0,654.3 450.0,650.1 460.0,645.9 470.0,641.8 480.0,637.6 490.0,633.4 500.0,629.2 510.0,625.1 520.0,620.9 530.0,616.7 540.0,612.6 550.0,608.4 560.0,604.2 570.0,600.0 580.0,595.9 590.0,591.7 600.0,587.5 610.0,583.3 620.0,579.2 630.0,575.0 640.0,570.8 650.0,566.7 660.0,562.5 670.0,558.3 680.0,554.1 690.0,550.0 700.0,545.8 710.0,541.6 720.0,537.4 730.0,533.3 740.0,529.1 750.0,524.9 760.0,520.8 770.0,516.6 780.0,512.4 790.0,508.2 800.0,504.1 810.0,499.9 820.0,495.7 830.0,491.5 840.0,487.4 850.0,483.2 860.0,479.0 870.0,474.8 880.0,470.7 890.0,466.5 900.0,462.3 910.0,458.2 920.0,454.0 930.0,449.8 940.0,445.6 950.0,441.5 960.0,437.3 970.0,433.1 980.0,428.9 990.0,424.8 1000.0,420.6 1010.0,416.4" fill="none" stroke="#333" stroke-width="1.2"/>
<ellipse cx="694" cy="541" rx="8" ry="6" fill="#4a4a4a" stroke="#333" stroke-width="1"/>
<ellipse cx="353" cy="378" rx="4.5" ry="4" fill="#999" stroke="#222" stroke-width="1.5"/>
<clipPath id="abovebar"><polygon points="270.0,150.0 280.0,150.0 290.0,150.0 300.0,150.0 310.0,150.0 320.0,150.0 330.0,150.0 340.0,150.0 350.0,150.0 360.0,150.0 370.0,150.0 380.0,150.0 390.0,150.0 400.0,150.0 410.0,150.0 420.0,150.0 430.0,150.0 440.0,150.0 450.0,150.0 460.0,150.0 470.0,150.0 480.0,150.0 490.0,150.0 500.0,150.0 510.0,150.0 520.0,150.0 530.0,150.0 540.0,150.0 550.0,150.0 560.0,150.0 570.0,150.0 580.0,150.0 590.0,150.0 600.0,150.0 610.0,150.0 620.0,150.0 630.0,150.0 640.0,150.0 650.0,150.0 660.0,150.0 670.0,150.0 680.0,150.0 690.0,150.0 700.0,150.0 710.0,150.0 720.0,150.0 730.0,150.0 740.0,150.0 750.0,150.0 760.0,150.0 770.0,150.0 780.0,150.0 790.0,150.0 800.0,150.0 810.0,150.0 820.0,150.0 830.0,150.0 840.0,150.0 850.0,150.0 860.0,150.0 870.0,150.0 880.0,150.0 890.0,150.0 900.0,150.0 910.0,150.0 920.0,150.0 930.0,150.0 940.0,150.0 950.0,150.0 960.0,150.0 970.0,150.0 980.0,150.0 990.0,150.0 1000.0,150.0 1010.0,150.0 1010.0,384.8 1000.0,388.9 990.0,393.0 980.0,397.1 970.0,401.2 960.0,405.3 950.0,409.4 940.0,413.5 930.0,417.6 920.0,421.7 910.0,425.8 900.0,429.9 890.0,434.0 880.0,438.1 870.0,442.2 860.0,446.3 850.0,450.4 840.0,454.5 830.0,458.6 820.0,462.7 810.0,466.8 800.0,470.9 790.0,475.0 780.0,479.1 770.0,483.2 760.0,487.3 750.0,491.4 740.0,495.5 730.0,499.6 720.0,503.7 710.0,507.8 700.0,511.9 690.0,516.0 680.0,520.1 670.0,524.2 660.0,528.3 650.0,532.4 640.0,536.5 630.0,540.6 620.0,544.7 610.0,548.8 600.0,552.9 590.0,557.0 580.0,561.1 570.0,565.2 560.0,569.3 550.0,573.4 540.0,577.5 530.0,581.6 520.0,585.7 510.0,589.8 500.0,593.8 490.0,597.9 480.0,602.0 470.0,606.1 460.0,610.2 450.0,614.3 440.0,618.4 430.0,622.5 420.0,626.6 410.0,630.7 400.0,634.8 390.0,638.9 380.0,643.0 370.0,647.1 360.0,651.2 350.0,655.3 340.0,659.4 330.0,663.5 320.0,667.6 310.0,671.7 300.0,675.8 290.0,679.9 280.0,684.0 270.0,688.1"/></clipPath>
<g clip-path="url(#abovebar)">
<path d="M483.0 331.0 C487.5 335.5,502.2 347.3,510.0 358.0 C517.8 368.7,523.0 382.2,530.0 395.0 C537.0 407.8,544.5 423.2,552.0 435.0 C559.5 446.8,566.2 457.3,575.0 466.0 C583.8 474.7,595.0 481.7,605.0 487.0 C615.0 492.3,625.5 494.5,635.0 498.0 C644.5 501.5,653.8 503.7,662.0 508.0 C670.2 512.3,680.3 521.3,684.0 524.0" fill="none" stroke="#262626" stroke-width="33"/>
<path d="M483.0 331.0 C487.5 335.5,502.2 347.3,510.0 358.0 C517.8 368.7,523.0 382.2,530.0 395.0 C537.0 407.8,544.5 423.2,552.0 435.0 C559.5 446.8,566.2 457.3,575.0 466.0 C583.8 474.7,595.0 481.7,605.0 487.0 C615.0 492.3,625.5 494.5,635.0 498.0 C644.5 501.5,653.8 503.7,662.0 508.0 C670.2 512.3,680.3 521.3,684.0 524.0" fill="none" stroke="#4e4e4e" stroke-width="30"/>
<path d="M483.0 331.0 C487.5 335.5,502.2 347.3,510.0 358.0 C517.8 368.7,523.0 382.2,530.0 395.0 C537.0 407.8,544.5 423.2,552.0 435.0 C559.5 446.8,566.2 457.3,575.0 466.0 C583.8 474.7,595.0 481.7,605.0 487.0 C615.0 492.3,625.5 494.5,635.0 498.0 C644.5 501.5,653.8 503.7,662.0 508.0 C670.2 512.3,680.3 521.3,684.0 524.0" fill="none" stroke="#6a6a6a" stroke-width="16" transform="translate(-5,2)"/>
<path d="M483.0 331.0 C487.5 335.5,502.2 347.3,510.0 358.0 C517.8 368.7,523.0 382.2,530.0 395.0 C537.0 407.8,544.5 423.2,552.0 435.0 C559.5 446.8,566.2 457.3,575.0 466.0 C583.8 474.7,595.0 481.7,605.0 487.0 C615.0 492.3,625.5 494.5,635.0 498.0 C644.5 501.5,653.8 503.7,662.0 508.0 C670.2 512.3,680.3 521.3,684.0 524.0" fill="none" stroke="#888" stroke-width="6" transform="translate(-9,3.5)"/>
<path d="M640,484 C636,492 634,500 633,509" stroke="#222" stroke-width="2" fill="none"/>
<path d="M652,486 C648,495 646,505 646,514" stroke="#222" stroke-width="1.6" fill="none"/>
<path d="M503,342 L485,360" stroke="#222" stroke-width="1.5" fill="none"/>
</g>
<path d="M304.0 381.0L337.3 381.5A7.9 7.9 0 0 1 338.3 397.2L302.4 402.6A7.3 7.3 0 1 0 306.0 416.6L361.8 396.4A7.9 7.9 0 1 1 365.7 411.6L326.9 417.7A9.0 9.0 0 1 0 331.3 435.1L387.0 415.1A9.2 9.2 0 1 1 391.2 433.0L351.9 437.5A10.0 10.0 0 1 0 356.2 456.9L415.5 437.1A10.0 10.0 0 1 1 420.1 456.5L375.4 463.1A10.0 10.0 0 1 0 379.9 482.5L439.1 463.5A10.0 10.0 0 0 1 445.2 482.5L399.5 497.5A10.0 10.0 0 1 0 406.3 516.3L457.7 496.2A10.0 10.0 0 1 1 464.2 515.1L420.0 528.0A10.0 10.0 0 1 0 425.9 547.1L481.0 529.2A10.0 10.0 0 1 1 487.1 548.3L442.5 562.2A10.0 10.0 0 0 0 448.4 581.3L503.9 564.2A10.0 10.0 0 1 1 509.0 583.5L451.0 596.0" fill="none" stroke="#404040" stroke-width="7.4" stroke-linejoin="round" stroke-linecap="round"/>
<path d="M412.0 341.0L459.6 340.4A5.8 5.8 0 0 1 460.3 352.1L427.5 355.8A7.2 7.2 0 1 0 430.6 369.9L487.1 351.8A8.3 8.3 0 1 1 490.6 368.0L452.9 372.6A8.5 8.5 0 1 0 456.6 389.0L513.7 369.3A8.9 8.9 0 1 1 517.7 386.6L479.0 391.3A9.2 9.2 0 1 0 483.3 409.2L540.2 388.6A10.0 10.0 0 1 1 545.3 407.9L504.7 414.6A10.0 10.0 0 1 0 509.6 433.9L563.9 415.2A10.0 10.0 0 1 1 569.4 434.3L530.6 443.5A10.0 10.0 0 1 0 536.5 462.6L588.0 442.4A10.0 10.0 0 1 1 594.9 461.2L554.1 475.3A10.0 10.0 0 0 0 560.5 494.2L613.5 476.5A10.0 10.0 0 1 1 619.5 495.6L575.4 509.0A10.0 10.0 0 1 0 581.2 528.1L636.4 511.1A10.0 10.0 0 1 1 641.1 530.4L585.6 540.4" fill="none" stroke="#404040" stroke-width="7.2" stroke-linejoin="round" stroke-linecap="round"/>
<path d="M528.0 297.0L573.6 293.5A7.5 7.5 0 0 1 575.1 308.4L545.4 312.5A6.8 6.8 0 1 0 548.7 325.7L603.5 305.8A7.6 7.6 0 1 1 607.4 320.4L573.1 326.2A8.2 8.2 0 1 0 577.4 341.9L631.0 321.5A8.8 8.8 0 1 1 635.6 338.5L601.2 344.1A9.0 9.0 0 1 0 606.0 361.3L660.4 339.2A10.0 10.0 0 1 1 666.3 358.3L628.7 366.7A10.0 10.0 0 1 0 634.5 385.8L686.9 365.2A10.0 10.0 0 1 1 693.0 384.2L655.1 394.0A10.0 10.0 0 1 0 661.2 413.0L711.9 393.6A10.0 10.0 0 1 1 718.4 412.5L680.0 424.1A10.0 10.0 0 1 0 686.4 443.1L738.2 423.5A10.0 10.0 0 1 1 745.2 442.3L705.7 457.1A10.0 10.0 0 1 0 712.8 475.8L761.0 456.9A8.7 8.7 0 1 1 766.5 473.3L715.6 488.0" fill="none" stroke="#404040" stroke-width="6.6" stroke-linejoin="round" stroke-linecap="round"/>
<path d="M646.0 255.0L691.6 251.4A7.4 7.4 0 0 1 693.2 266.1L661.6 270.8A6.7 6.7 0 1 0 664.9 283.7L719.0 264.2A7.3 7.3 0 1 1 722.7 278.2L689.5 284.1A7.5 7.5 0 1 0 693.6 298.5L745.7 278.4A8.2 8.2 0 1 1 749.9 294.1L717.4 299.0A9.5 9.5 0 1 0 722.3 317.2L773.1 297.3A10.0 10.0 0 1 1 778.6 316.4L744.2 322.9A10.0 10.0 0 1 0 749.9 342.0L799.3 321.8A10.0 10.0 0 1 1 805.2 340.8L769.8 348.2A10.0 10.0 0 1 0 775.9 367.1L828.1 343.9A10.0 10.0 0 1 1 835.2 362.5L793.0 376.2A10.0 10.0 0 1 0 800.1 394.8L852.1 371.9A10.0 10.0 0 1 1 859.9 390.3L816.6 407.9A10.0 10.0 0 0 0 824.1 426.5L875.9 405.5A6.0 6.0 0 0 1 881.4 416.0L838.0 444.0" fill="none" stroke="#404040" stroke-width="6.0" stroke-linejoin="round" stroke-linecap="round"/>
<path d="M760.0 221.0L801.9 206.5A6.9 6.9 0 1 1 805.1 219.8L772.9 224.5A6.5 6.5 0 1 0 776.0 237.2L829.8 218.4A7.0 7.0 0 1 1 833.3 232.0L802.7 237.0A7.0 7.0 0 1 0 806.4 250.6L859.1 230.2A8.4 8.4 0 1 1 863.8 246.2L832.2 252.8A8.4 8.4 0 1 0 837.2 268.7L888.4 246.4A9.4 9.4 0 1 1 894.3 264.2L861.7 271.8A9.4 9.4 0 1 0 867.9 289.5L917.9 266.0A10.0 10.0 0 1 1 924.6 284.7L891.4 293.3A10.0 10.0 0 1 0 898.2 312.0L947.8 288.0A10.0 10.0 0 1 1 955.9 306.3L918.1 321.7A10.0 10.0 0 1 0 926.2 340.0L975.8 316.0A10.0 10.0 0 1 1 983.9 334.3L946.1 349.7A10.0 10.0 0 1 0 954.2 368.0L1003.8 344.0A10.0 10.0 0 1 1 1012.1 362.2L971.9 379.8A10.0 10.0 0 0 0 979.9 398.2L1010.0 385.0" fill="none" stroke="#404040" stroke-width="5.6" stroke-linejoin="round" stroke-linecap="round"/>
<path d="M304.0 381.0L337.3 381.5A7.9 7.9 0 0 1 338.3 397.2L302.4 402.6A7.3 7.3 0 1 0 306.0 416.6L361.8 396.4A7.9 7.9 0 1 1 365.7 411.6L326.9 417.7A9.0 9.0 0 1 0 331.3 435.1L387.0 415.1A9.2 9.2 0 1 1 391.2 433.0L351.9 437.5A10.0 10.0 0 1 0 356.2 456.9L415.5 437.1A10.0 10.0 0 1 1 420.1 456.5L375.4 463.1A10.0 10.0 0 1 0 379.9 482.5L439.1 463.5A10.0 10.0 0 0 1 445.2 482.5L399.5 497.5A10.0 10.0 0 1 0 406.3 516.3L457.7 496.2A10.0 10.0 0 1 1 464.2 515.1L420.0 528.0A10.0 10.0 0 1 0 425.9 547.1L481.0 529.2A10.0 10.0 0 1 1 487.1 548.3L442.5 562.2A10.0 10.0 0 0 0 448.4 581.3L503.9 564.2A10.0 10.0 0 1 1 509.0 583.5L451.0 596.0" fill="none" stroke="#a0a0a0" stroke-width="4.9" stroke-linejoin="round" stroke-linecap="round"/>
<path d="M412.0 341.0L459.6 340.4A5.8 5.8 0 0 1 460.3 352.1L427.5 355.8A7.2 7.2 0 1 0 430.6 369.9L487.1 351.8A8.3 8.3 0 1 1 490.6 368.0L452.9 372.6A8.5 8.5 0 1 0 456.6 389.0L513.7 369.3A8.9 8.9 0 1 1 517.7 386.6L479.0 391.3A9.2 9.2 0 1 0 483.3 409.2L540.2 388.6A10.0 10.0 0 1 1 545.3 407.9L504.7 414.6A10.0 10.0 0 1 0 509.6 433.9L563.9 415.2A10.0 10.0 0 1 1 569.4 434.3L530.6 443.5A10.0 10.0 0 1 0 536.5 462.6L588.0 442.4A10.0 10.0 0 1 1 594.9 461.2L554.1 475.3A10.0 10.0 0 0 0 560.5 494.2L613.5 476.5A10.0 10.0 0 1 1 619.5 495.6L575.4 509.0A10.0 10.0 0 1 0 581.2 528.1L636.4 511.1A10.0 10.0 0 1 1 641.1 530.4L585.6 540.4" fill="none" stroke="#a0a0a0" stroke-width="4.7" stroke-linejoin="round" stroke-linecap="round"/>
<path d="M528.0 297.0L573.6 293.5A7.5 7.5 0 0 1 575.1 308.4L545.4 312.5A6.8 6.8 0 1 0 548.7 325.7L603.5 305.8A7.6 7.6 0 1 1 607.4 320.4L573.1 326.2A8.2 8.2 0 1 0 577.4 341.9L631.0 321.5A8.8 8.8 0 1 1 635.6 338.5L601.2 344.1A9.0 9.0 0 1 0 606.0 361.3L660.4 339.2A10.0 10.0 0 1 1 666.3 358.3L628.7 366.7A10.0 10.0 0 1 0 634.5 385.8L686.9 365.2A10.0 10.0 0 1 1 693.0 384.2L655.1 394.0A10.0 10.0 0 1 0 661.2 413.0L711.9 393.6A10.0 10.0 0 1 1 718.4 412.5L680.0 424.1A10.0 10.0 0 1 0 686.4 443.1L738.2 423.5A10.0 10.0 0 1 1 745.2 442.3L705.7 457.1A10.0 10.0 0 1 0 712.8 475.8L761.0 456.9A8.7 8.7 0 1 1 766.5 473.3L715.6 488.0" fill="none" stroke="#a0a0a0" stroke-width="4.3" stroke-linejoin="round" stroke-linecap="round"/>
<path d="M646.0 255.0L691.6 251.4A7.4 7.4 0 0 1 693.2 266.1L661.6 270.8A6.7 6.7 0 1 0 664.9 283.7L719.0 264.2A7.3 7.3 0 1 1 722.7 278.2L689.5 284.1A7.5 7.5 0 1 0 693.6 298.5L745.7 278.4A8.2 8.2 0 1 1 749.9 294.1L717.4 299.0A9.5 9.5 0 1 0 722.3 317.2L773.1 297.3A10.0 10.0 0 1 1 778.6 316.4L744.2 322.9A10.0 10.0 0 1 0 749.9 342.0L799.3 321.8A10.0 10.0 0 1 1 805.2 340.8L769.8 348.2A10.0 10.0 0 1 0 775.9 367.1L828.1 343.9A10.0 10.0 0 1 1 835.2 362.5L793.0 376.2A10.0 10.0 0 1 0 800.1 394.8L852.1 371.9A10.0 10.0 0 1 1 859.9 390.3L816.6 407.9A10.0 10.0 0 0 0 824.1 426.5L875.9 405.5A6.0 6.0 0 0 1 881.4 416.0L838.0 444.0" fill="none" stroke="#a0a0a0" stroke-width="3.9" stroke-linejoin="round" stroke-linecap="round"/>
<path d="M760.0 221.0L801.9 206.5A6.9 6.9 0 1 1 805.1 219.8L772.9 224.5A6.5 6.5 0 1 0 776.0 237.2L829.8 218.4A7.0 7.0 0 1 1 833.3 232.0L802.7 237.0A7.0 7.0 0 1 0 806.4 250.6L859.1 230.2A8.4 8.4 0 1 1 863.8 246.2L832.2 252.8A8.4 8.4 0 1 0 837.2 268.7L888.4 246.4A9.4 9.4 0 1 1 894.3 264.2L861.7 271.8A9.4 9.4 0 1 0 867.9 289.5L917.9 266.0A10.0 10.0 0 1 1 924.6 284.7L891.4 293.3A10.0 10.0 0 1 0 898.2 312.0L947.8 288.0A10.0 10.0 0 1 1 955.9 306.3L918.1 321.7A10.0 10.0 0 1 0 926.2 340.0L975.8 316.0A10.0 10.0 0 1 1 983.9 334.3L946.1 349.7A10.0 10.0 0 1 0 954.2 368.0L1003.8 344.0A10.0 10.0 0 1 1 1012.1 362.2L971.9 379.8A10.0 10.0 0 0 0 979.9 398.2L1010.0 385.0" fill="none" stroke="#a0a0a0" stroke-width="3.6" stroke-linejoin="round" stroke-linecap="round"/>
<path d="M304.0 381.0L337.3 381.5A7.9 7.9 0 0 1 338.3 397.2L302.4 402.6A7.3 7.3 0 1 0 306.0 416.6L361.8 396.4A7.9 7.9 0 1 1 365.7 411.6L326.9 417.7A9.0 9.0 0 1 0 331.3 435.1L387.0 415.1A9.2 9.2 0 1 1 391.2 433.0L351.9 437.5A10.0 10.0 0 1 0 356.2 456.9L415.5 437.1A10.0 10.0 0 1 1 420.1 456.5L375.4 463.1A10.0 10.0 0 1 0 379.9 482.5L439.1 463.5A10.0 10.0 0 0 1 445.2 482.5L399.5 497.5A10.0 10.0 0 1 0 406.3 516.3L457.7 496.2A10.0 10.0 0 1 1 464.2 515.1L420.0 528.0A10.0 10.0 0 1 0 425.9 547.1L481.0 529.2A10.0 10.0 0 1 1 487.1 548.3L442.5 562.2A10.0 10.0 0 0 0 448.4 581.3L503.9 564.2A10.0 10.0 0 1 1 509.0 583.5L451.0 596.0" fill="none" stroke="#d2d2d2" stroke-width="1.6" stroke-linejoin="round" transform="translate(0,-0.8)"/>
<path d="M412.0 341.0L459.6 340.4A5.8 5.8 0 0 1 460.3 352.1L427.5 355.8A7.2 7.2 0 1 0 430.6 369.9L487.1 351.8A8.3 8.3 0 1 1 490.6 368.0L452.9 372.6A8.5 8.5 0 1 0 456.6 389.0L513.7 369.3A8.9 8.9 0 1 1 517.7 386.6L479.0 391.3A9.2 9.2 0 1 0 483.3 409.2L540.2 388.6A10.0 10.0 0 1 1 545.3 407.9L504.7 414.6A10.0 10.0 0 1 0 509.6 433.9L563.9 415.2A10.0 10.0 0 1 1 569.4 434.3L530.6 443.5A10.0 10.0 0 1 0 536.5 462.6L588.0 442.4A10.0 10.0 0 1 1 594.9 461.2L554.1 475.3A10.0 10.0 0 0 0 560.5 494.2L613.5 476.5A10.0 10.0 0 1 1 619.5 495.6L575.4 509.0A10.0 10.0 0 1 0 581.2 528.1L636.4 511.1A10.0 10.0 0 1 1 641.1 530.4L585.6 540.4" fill="none" stroke="#d2d2d2" stroke-width="1.6" stroke-linejoin="round" transform="translate(0,-0.8)"/>
<path d="M528.0 297.0L573.6 293.5A7.5 7.5 0 0 1 575.1 308.4L545.4 312.5A6.8 6.8 0 1 0 548.7 325.7L603.5 305.8A7.6 7.6 0 1 1 607.4 320.4L573.1 326.2A8.2 8.2 0 1 0 577.4 341.9L631.0 321.5A8.8 8.8 0 1 1 635.6 338.5L601.2 344.1A9.0 9.0 0 1 0 606.0 361.3L660.4 339.2A10.0 10.0 0 1 1 666.3 358.3L628.7 366.7A10.0 10.0 0 1 0 634.5 385.8L686.9 365.2A10.0 10.0 0 1 1 693.0 384.2L655.1 394.0A10.0 10.0 0 1 0 661.2 413.0L711.9 393.6A10.0 10.0 0 1 1 718.4 412.5L680.0 424.1A10.0 10.0 0 1 0 686.4 443.1L738.2 423.5A10.0 10.0 0 1 1 745.2 442.3L705.7 457.1A10.0 10.0 0 1 0 712.8 475.8L761.0 456.9A8.7 8.7 0 1 1 766.5 473.3L715.6 488.0" fill="none" stroke="#d2d2d2" stroke-width="1.5" stroke-linejoin="round" transform="translate(0,-0.8)"/>
<path d="M646.0 255.0L691.6 251.4A7.4 7.4 0 0 1 693.2 266.1L661.6 270.8A6.7 6.7 0 1 0 664.9 283.7L719.0 264.2A7.3 7.3 0 1 1 722.7 278.2L689.5 284.1A7.5 7.5 0 1 0 693.6 298.5L745.7 278.4A8.2 8.2 0 1 1 749.9 294.1L717.4 299.0A9.5 9.5 0 1 0 722.3 317.2L773.1 297.3A10.0 10.0 0 1 1 778.6 316.4L744.2 322.9A10.0 10.0 0 1 0 749.9 342.0L799.3 321.8A10.0 10.0 0 1 1 805.2 340.8L769.8 348.2A10.0 10.0 0 1 0 775.9 367.1L828.1 343.9A10.0 10.0 0 1 1 835.2 362.5L793.0 376.2A10.0 10.0 0 1 0 800.1 394.8L852.1 371.9A10.0 10.0 0 1 1 859.9 390.3L816.6 407.9A10.0 10.0 0 0 0 824.1 426.5L875.9 405.5A6.0 6.0 0 0 1 881.4 416.0L838.0 444.0" fill="none" stroke="#d2d2d2" stroke-width="1.4" stroke-linejoin="round" transform="translate(0,-0.8)"/>
<path d="M760.0 221.0L801.9 206.5A6.9 6.9 0 1 1 805.1 219.8L772.9 224.5A6.5 6.5 0 1 0 776.0 237.2L829.8 218.4A7.0 7.0 0 1 1 833.3 232.0L802.7 237.0A7.0 7.0 0 1 0 806.4 250.6L859.1 230.2A8.4 8.4 0 1 1 863.8 246.2L832.2 252.8A8.4 8.4 0 1 0 837.2 268.7L888.4 246.4A9.4 9.4 0 1 1 894.3 264.2L861.7 271.8A9.4 9.4 0 1 0 867.9 289.5L917.9 266.0A10.0 10.0 0 1 1 924.6 284.7L891.4 293.3A10.0 10.0 0 1 0 898.2 312.0L947.8 288.0A10.0 10.0 0 1 1 955.9 306.3L918.1 321.7A10.0 10.0 0 1 0 926.2 340.0L975.8 316.0A10.0 10.0 0 1 1 983.9 334.3L946.1 349.7A10.0 10.0 0 1 0 954.2 368.0L1003.8 344.0A10.0 10.0 0 1 1 1012.1 362.2L971.9 379.8A10.0 10.0 0 0 0 979.9 398.2L1010.0 385.0" fill="none" stroke="#d2d2d2" stroke-width="1.3" stroke-linejoin="round" transform="translate(0,-0.8)"/>
<polyline points="362.0,431.0 400.0,416.8 460.0,395.2 640.0,325.0 700.0,303.6 780.0,270.0 828.0,250.8 870.0,234.0" fill="none" stroke="#6a3a44" stroke-width="6.0" stroke-linejoin="round" stroke-linecap="round"/>
<polyline points="362.0,431.0 400.0,416.8 460.0,395.2 640.0,325.0 700.0,303.6 780.0,270.0 828.0,250.8 870.0,234.0" fill="none" stroke="#e87a92" stroke-width="4.2" stroke-linejoin="round" stroke-linecap="round"/>
<polyline points="434.0,512.2 1000.0,282.6" fill="none" stroke="#6a3a44" stroke-width="6.0" stroke-linejoin="round" stroke-linecap="round"/>
<polyline points="434.0,512.2 1000.0,282.6" fill="none" stroke="#e87a92" stroke-width="4.2" stroke-linejoin="round" stroke-linecap="round"/>
<path d="M364.0 430.0 C361.7 431.0,353.8 433.3,350.0 436.0 C346.2 438.7,342.3 442.7,341.0 446.0 C339.7 449.3,340.7 453.3,342.0 456.0 C343.3 458.7,346.0 460.6,349.0 462.0 C352.0 463.4,358.2 464.1,360.0 464.5" fill="none" stroke="#5a2430" stroke-width="7.4" stroke-linecap="round"/>
<path d="M364.0 430.0 C361.7 431.0,353.8 433.3,350.0 436.0 C346.2 438.7,342.3 442.7,341.0 446.0 C339.7 449.3,340.7 453.3,342.0 456.0 C343.3 458.7,346.0 460.6,349.0 462.0 C352.0 463.4,358.2 464.1,360.0 464.5" fill="none" stroke="#d2445b" stroke-width="5.2" stroke-linecap="round"/>
<path d="M364.0 430.0 C361.7 431.0,353.8 433.3,350.0 436.0 C346.2 438.7,342.3 442.7,341.0 446.0 C339.7 449.3,340.7 453.3,342.0 456.0 C343.3 458.7,346.0 460.6,349.0 462.0 C352.0 463.4,358.2 464.1,360.0 464.5" fill="none" stroke="#ee8da0" stroke-width="1.6" stroke-linecap="round" transform="translate(0.5,-1)"/>
<path d="M436.0 511.0 C433.7 511.8,426.5 513.7,422.0 516.0 C417.5 518.3,411.3 522.0,409.0 525.0 C406.7 528.0,407.2 531.5,408.0 534.0 C408.8 536.5,411.0 538.5,414.0 540.0 C417.0 541.5,424.0 542.5,426.0 543.0" fill="none" stroke="#5a2430" stroke-width="7.4" stroke-linecap="round"/>
<path d="M436.0 511.0 C433.7 511.8,426.5 513.7,422.0 516.0 C417.5 518.3,411.3 522.0,409.0 525.0 C406.7 528.0,407.2 531.5,408.0 534.0 C408.8 536.5,411.0 538.5,414.0 540.0 C417.0 541.5,424.0 542.5,426.0 543.0" fill="none" stroke="#d2445b" stroke-width="5.2" stroke-linecap="round"/>
<path d="M436.0 511.0 C433.7 511.8,426.5 513.7,422.0 516.0 C417.5 518.3,411.3 522.0,409.0 525.0 C406.7 528.0,407.2 531.5,408.0 534.0 C408.8 536.5,411.0 538.5,414.0 540.0 C417.0 541.5,424.0 542.5,426.0 543.0" fill="none" stroke="#ee8da0" stroke-width="1.6" stroke-linecap="round" transform="translate(0.5,-1)"/>
<g transform="translate(362,431) rotate(-21)"><rect x="-11.0" y="-6.5" width="22.0" height="13.0" fill="#f2f2f2" stroke="#222" stroke-width="1.5" rx="2"/><rect x="-11.0" y="-1.5" width="22.0" height="4.0" fill="#e07890"/><line x1="-3.0" y1="-6.5" x2="-3.0" y2="6.5" stroke="#333" stroke-width="2.0"/><line x1="4.0" y1="-6.5" x2="4.0" y2="6.5" stroke="#333" stroke-width="2.0"/></g>
<g transform="translate(486,384) rotate(-21)"><rect x="-10.4" y="-6.2" width="20.9" height="12.3" fill="#f2f2f2" stroke="#222" stroke-width="1.5" rx="2"/><rect x="-10.4" y="-1.4" width="20.9" height="3.8" fill="#e07890"/><line x1="-2.8" y1="-6.2" x2="-2.8" y2="6.2" stroke="#333" stroke-width="1.9"/><line x1="3.8" y1="-6.2" x2="3.8" y2="6.2" stroke="#333" stroke-width="1.9"/></g>
<g transform="translate(605,339) rotate(-21)"><rect x="-9.3" y="-5.5" width="18.7" height="11.0" fill="#f2f2f2" stroke="#222" stroke-width="1.5" rx="2"/><rect x="-9.3" y="-1.3" width="18.7" height="3.4" fill="#e07890"/><line x1="-2.5" y1="-5.5" x2="-2.5" y2="5.5" stroke="#333" stroke-width="1.7"/><line x1="3.4" y1="-5.5" x2="3.4" y2="5.5" stroke="#333" stroke-width="1.7"/></g>
<g transform="translate(721,294) rotate(-21)"><rect x="-8.2" y="-4.9" width="16.5" height="9.8" fill="#f2f2f2" stroke="#222" stroke-width="1.5" rx="2"/><rect x="-8.2" y="-1.1" width="16.5" height="3.0" fill="#e07890"/><line x1="-2.2" y1="-4.9" x2="-2.2" y2="4.9" stroke="#333" stroke-width="1.5"/><line x1="3.0" y1="-4.9" x2="3.0" y2="4.9" stroke="#333" stroke-width="1.5"/></g>
<g transform="translate(835,247) rotate(-21)"><rect x="-6.8" y="-4.0" width="13.6" height="8.1" fill="#f2f2f2" stroke="#222" stroke-width="1.5" rx="2"/><rect x="-6.8" y="-0.9" width="13.6" height="2.5" fill="#e07890"/><line x1="-1.9" y1="-4.0" x2="-1.9" y2="4.0" stroke="#333" stroke-width="1.2"/><line x1="2.5" y1="-4.0" x2="2.5" y2="4.0" stroke="#333" stroke-width="1.2"/></g>
<g transform="translate(434,512) rotate(-21)"><rect x="-11.0" y="-6.5" width="22.0" height="13.0" fill="#f2f2f2" stroke="#222" stroke-width="1.5" rx="2"/><rect x="-11.0" y="-1.5" width="22.0" height="4.0" fill="#e07890"/><line x1="-3.0" y1="-6.5" x2="-3.0" y2="6.5" stroke="#333" stroke-width="2.0"/><line x1="4.0" y1="-6.5" x2="4.0" y2="6.5" stroke="#333" stroke-width="2.0"/></g>
<g transform="translate(565,459) rotate(-21)"><rect x="-10.4" y="-6.2" width="20.9" height="12.3" fill="#f2f2f2" stroke="#222" stroke-width="1.5" rx="2"/><rect x="-10.4" y="-1.4" width="20.9" height="3.8" fill="#e07890"/><line x1="-2.8" y1="-6.2" x2="-2.8" y2="6.2" stroke="#333" stroke-width="1.9"/><line x1="3.8" y1="-6.2" x2="3.8" y2="6.2" stroke="#333" stroke-width="1.9"/></g>
<g transform="translate(681,412) rotate(-21)"><rect x="-9.3" y="-5.5" width="18.7" height="11.0" fill="#f2f2f2" stroke="#222" stroke-width="1.5" rx="2"/><rect x="-9.3" y="-1.3" width="18.7" height="3.4" fill="#e07890"/><line x1="-2.5" y1="-5.5" x2="-2.5" y2="5.5" stroke="#333" stroke-width="1.7"/><line x1="3.4" y1="-5.5" x2="3.4" y2="5.5" stroke="#333" stroke-width="1.7"/></g>
<g transform="translate(801,363) rotate(-21)"><rect x="-8.2" y="-4.9" width="16.5" height="9.8" fill="#f2f2f2" stroke="#222" stroke-width="1.5" rx="2"/><rect x="-8.2" y="-1.1" width="16.5" height="3.0" fill="#e07890"/><line x1="-2.2" y1="-4.9" x2="-2.2" y2="4.9" stroke="#333" stroke-width="1.5"/><line x1="3.0" y1="-4.9" x2="3.0" y2="4.9" stroke="#333" stroke-width="1.5"/></g>
<g transform="translate(923.5,310) rotate(-21)"><rect x="-6.8" y="-4.0" width="13.6" height="8.1" fill="#f2f2f2" stroke="#222" stroke-width="1.5" rx="2"/><rect x="-6.8" y="-0.9" width="13.6" height="2.5" fill="#e07890"/><line x1="-1.9" y1="-4.0" x2="-1.9" y2="4.0" stroke="#333" stroke-width="1.2"/><line x1="2.5" y1="-4.0" x2="2.5" y2="4.0" stroke="#333" stroke-width="1.2"/></g>
<g transform="translate(303,380) rotate(-20)"><rect x="-17.0" y="-6.5" width="34" height="13" fill="#f4f4f4" stroke="#222" stroke-width="1.6" rx="3"/><line x1="-14.0" y1="0" x2="14.0" y2="0" stroke="#bbb" stroke-width="1.5"/></g>
<g transform="translate(410,340) rotate(-20)"><rect x="-17.0" y="-6.5" width="34" height="13" fill="#f4f4f4" stroke="#222" stroke-width="1.6" rx="3"/><line x1="-14.0" y1="0" x2="14.0" y2="0" stroke="#bbb" stroke-width="1.5"/></g>
<g transform="translate(528,297) rotate(-20)"><rect x="-17.0" y="-6.5" width="34" height="13" fill="#f4f4f4" stroke="#222" stroke-width="1.6" rx="3"/><line x1="-14.0" y1="0" x2="14.0" y2="0" stroke="#bbb" stroke-width="1.5"/></g>
<g transform="translate(644,254) rotate(-20)"><rect x="-17.0" y="-6.5" width="34" height="13" fill="#f4f4f4" stroke="#222" stroke-width="1.6" rx="3"/><line x1="-14.0" y1="0" x2="14.0" y2="0" stroke="#bbb" stroke-width="1.5"/></g>
<g transform="translate(752,216) rotate(-20)"><rect x="-9.0" y="-4.0" width="18" height="8" fill="#f4f4f4" stroke="#222" stroke-width="1.6" rx="3"/><line x1="-6.0" y1="0" x2="6.0" y2="0" stroke="#bbb" stroke-width="1.5"/></g>
<g transform="translate(490,600) rotate(-22)"><rect x="-15" y="-12" width="30" height="18" fill="#f6f6f6" stroke="#1a1a1a" stroke-width="1.8" rx="2"/><rect x="-12" y="10" width="26" height="12" fill="#f2f2f2" stroke="#1a1a1a" stroke-width="1.8"/></g>
<g transform="translate(626,548) rotate(-22)"><rect x="-15" y="-12" width="30" height="18" fill="#f6f6f6" stroke="#1a1a1a" stroke-width="1.8" rx="2"/><rect x="-12" y="10" width="26" height="12" fill="#f2f2f2" stroke="#1a1a1a" stroke-width="1.8"/></g>
<g transform="translate(753,494) rotate(-22)"><rect x="-15" y="-12" width="30" height="18" fill="#f6f6f6" stroke="#1a1a1a" stroke-width="1.8" rx="2"/><rect x="-12" y="10" width="26" height="12" fill="#f2f2f2" stroke="#1a1a1a" stroke-width="1.8"/></g>
</g>
<ellipse cx="640" cy="428.5" rx="350.5" ry="231" fill="none" stroke="#000" stroke-width="4"/>
<clipPath id="barbclip"><polygon points="270,460 400,460 400,500 326.5,534.5 270,585"/></clipPath>
<path d="M190,440 C230,478 300,492 391,491.5 L326,534 L420,590 L520,635 L600,655 L645,664 L631,661 C585,693 430,708 262,619 L255,695 C225,600 198,520 190,440 Z" fill="url(#gg)" clip-path="url(#barbclip)"/>
<line x1="794.8" y1="365" x2="675.5" y2="276.3" stroke="#000" stroke-width="9.5" stroke-linecap="square"/>
<polygon points="657.0,262.6 685.2,269.9 672.1,287.5" fill="#000" stroke="#000" stroke-width="5" stroke-linejoin="round"/>
<line x1="794.8" y1="365" x2="675.5" y2="276.3" stroke="#fff" stroke-width="5.0" stroke-linecap="square"/>
<polygon points="657.0,262.6 685.2,269.9 672.1,287.5" fill="#fff"/>
<line x1="756.9" y1="449" x2="691.1" y2="401.3" stroke="#000" stroke-width="9.5" stroke-linecap="square"/>
<polygon points="672.5,387.8 700.8,394.7 687.9,412.6" fill="#000" stroke="#000" stroke-width="5" stroke-linejoin="round"/>
<line x1="756.9" y1="449" x2="691.1" y2="401.3" stroke="#fff" stroke-width="5.0" stroke-linecap="square"/>
<polygon points="672.5,387.8 700.8,394.7 687.9,412.6" fill="#fff"/>
<line x1="718" y1="527.5" x2="665.3" y2="512.6" stroke="#000" stroke-width="9.5" stroke-linecap="square"/>
<polygon points="643.2,506.4 672.2,503.1 666.2,524.3" fill="#000" stroke="#000" stroke-width="5" stroke-linejoin="round"/>
<line x1="718" y1="527.5" x2="665.3" y2="512.6" stroke="#fff" stroke-width="5.0" stroke-linecap="square"/>
<polygon points="643.2,506.4 672.2,503.1 666.2,524.3" fill="#fff"/>
<line x1="678" y1="587" x2="584.0" y2="587.8" stroke="#000" stroke-width="9.5" stroke-linecap="square"/>
<polygon points="561.0,588.0 587.9,576.8 588.1,598.8" fill="#000" stroke="#000" stroke-width="5" stroke-linejoin="round"/>
<line x1="678" y1="587" x2="584.0" y2="587.8" stroke="#fff" stroke-width="5.0" stroke-linecap="square"/>
<polygon points="561.0,588.0 587.9,576.8 588.1,598.8" fill="#fff"/>
<g filter="url(#sh)" stroke="#5b5351" stroke-linejoin="round" paint-order="stroke" fill="#fff">
<g transform="translate(10.00,163.60) rotate(-4.6)"><text transform="translate(0.93,0) scale(0.4571,0.6032)" font-size="100" font-style="italic" style="font-weight:normal" stroke-width="6.5" vector-effect="non-scaling-stroke">E</text><text transform="translate(30.74,0) scale(0.5754,0.5422)" font-size="100" font-style="italic" style="font-weight:normal" stroke-width="6.5" vector-effect="non-scaling-stroke">x</text><text transform="translate(60.68,0) scale(0.7096,0.5014)" font-size="100" font-style="italic" style="font-weight:normal" stroke-width="6.5" vector-effect="non-scaling-stroke">c</text><text transform="translate(99.51,0) scale(0.5326,0.5691)" font-size="100" font-style="italic" style="font-weight:normal" stroke-width="6.5" vector-effect="non-scaling-stroke">l</text><text transform="translate(114.56,0) scale(0.5858,0.5867)" font-size="100" font-style="italic" style="font-weight:normal" stroke-width="6.5" vector-effect="non-scaling-stroke">u</text><text transform="translate(150.16,0) scale(0.5169,0.5440)" font-size="100" font-style="italic" style="font-weight:normal" stroke-width="6.5" vector-effect="non-scaling-stroke">s</text><text transform="translate(176.48,0) scale(0.4930,0.5590)" font-size="100" font-style="italic" style="font-weight:normal" stroke-width="6.5" vector-effect="non-scaling-stroke">i</text><text transform="translate(191.25,0) scale(0.5972,0.5272)" font-size="100" font-style="italic" style="font-weight:normal" stroke-width="6.5" vector-effect="non-scaling-stroke">v</text><text transform="translate(222.93,0) scale(0.6192,0.5408)" font-size="100" font-style="italic" style="font-weight:normal" stroke-width="6.5" vector-effect="non-scaling-stroke">e</text></g>
<g transform="translate(40.00,262.85) rotate(-4.98)"><text transform="translate(3.18,0) scale(0.8544,1.1332)" font-size="100" stroke-width="8" vector-effect="non-scaling-stroke">S</text><text transform="translate(60.56,0) scale(0.9308,1.2095)" font-size="100" stroke-width="8" vector-effect="non-scaling-stroke">t</text><text transform="translate(94.86,0) scale(1.2658,1.1088)" font-size="100" stroke-width="8" vector-effect="non-scaling-stroke">e</text><text transform="translate(164.18,0) scale(1.2637,1.0991)" font-size="100" stroke-width="8" vector-effect="non-scaling-stroke">e</text><text transform="translate(235.80,0) scale(0.9431,1.0944)" font-size="100" stroke-width="8" vector-effect="non-scaling-stroke">l</text><text transform="translate(293.50,0) scale(0.7775,1.1341)" font-size="100" stroke-width="8" vector-effect="non-scaling-stroke">F</text><text transform="translate(344.49,0) scale(0.8756,1.1176)" font-size="100" stroke-width="8" vector-effect="non-scaling-stroke">r</text><text transform="translate(383.87,0) scale(1.1770,1.1142)" font-size="100" stroke-width="8" vector-effect="non-scaling-stroke">a</text><text transform="translate(450.68,0) scale(1.2171,1.1324)" font-size="100" stroke-width="8" vector-effect="non-scaling-stroke">m</text><text transform="translate(556.03,0) scale(1.2575,1.1068)" font-size="100" stroke-width="8" vector-effect="non-scaling-stroke">e</text></g>
<g transform="translate(290.00,321.40) rotate(-5.2)"><text transform="translate(5.39,0) scale(0.6379,0.8573)" font-size="100" stroke-width="8" vector-effect="non-scaling-stroke">S</text><text transform="translate(49.29,0) scale(0.7917,0.8298)" font-size="100" stroke-width="8" vector-effect="non-scaling-stroke">y</text><text transform="translate(94.72,0) scale(0.7296,0.7980)" font-size="100" stroke-width="8" vector-effect="non-scaling-stroke">s</text><text transform="translate(133.68,0) scale(0.6983,0.8960)" font-size="100" stroke-width="8" vector-effect="non-scaling-stroke">t</text><text transform="translate(161.98,0) scale(0.9107,0.8135)" font-size="100" stroke-width="8" vector-effect="non-scaling-stroke">e</text><text transform="translate(211.18,0) scale(0.9195,0.8191)" font-size="100" stroke-width="8" vector-effect="non-scaling-stroke">m</text></g>
</g>
<g filter="url(#sh2)" stroke="#000" stroke-linejoin="round" paint-order="stroke" fill="#fff" font-size="24" stroke-width="3.2">
<text x="810" y="366" textLength="114" lengthAdjust="spacingAndGlyphs">Insulated</text>
<text x="810" y="395" textLength="148" lengthAdjust="spacingAndGlyphs">Spring Clips</text>
<text x="766" y="447" textLength="114" lengthAdjust="spacingAndGlyphs">8-Gauge</text>
<text x="766" y="474" textLength="195" lengthAdjust="spacingAndGlyphs">Sinuous Springs</text>
<text x="728" y="538" textLength="194" lengthAdjust="spacingAndGlyphs">Steel Stretchers</text>
<text x="688" y="592" textLength="160" lengthAdjust="spacingAndGlyphs">Tubular Steel</text>
<text x="688" y="618" textLength="76" lengthAdjust="spacingAndGlyphs">Frame</text>
</g>
</svg></body></html>
